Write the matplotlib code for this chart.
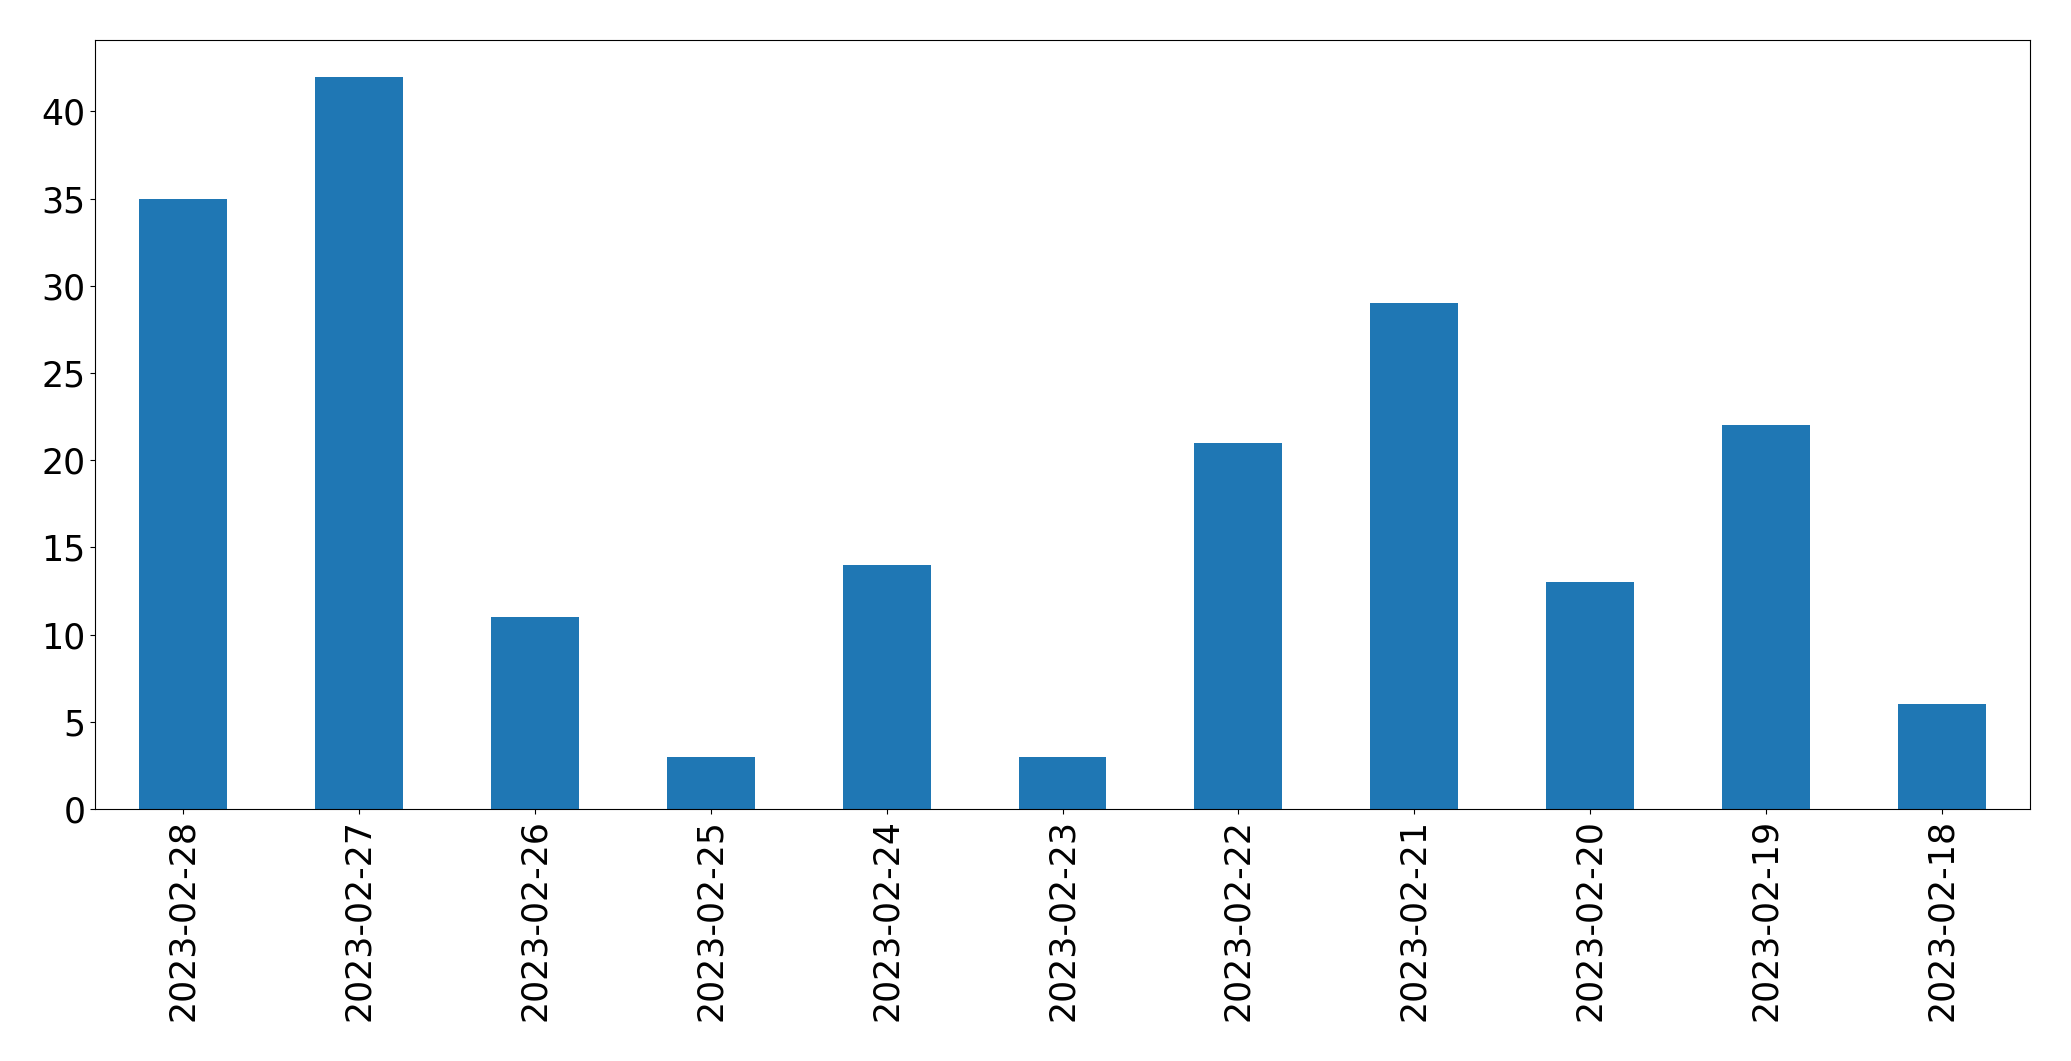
import matplotlib
matplotlib.use("Agg")
import matplotlib.pyplot as plt

dates = ["2023-02-28", "2023-02-27", "2023-02-26", "2023-02-25", "2023-02-24",
         "2023-02-23", "2023-02-22", "2023-02-21", "2023-02-20", "2023-02-19",
         "2023-02-18"]
counts = [35, 42, 11, 3, 14, 3, 21, 29, 13, 22, 6]

fig = plt.figure(figsize=(20.71, 10.61), dpi=100)
ax = fig.add_axes([95/2071, 1 - 809/1061, (2030-95)/2071, (809-40)/1061])

x = range(len(dates))
ax.bar(x, counts, width=0.5, color="#1f77b4")
ax.set_xlim(-0.5, len(dates) - 0.5)
ax.set_ylim(0, 44.1)
ax.set_xticks(list(x))
ax.set_xticklabels(dates, rotation=90)
ax.tick_params(axis="both", labelsize=25)

fig.savefig("out.png", dpi=100)
